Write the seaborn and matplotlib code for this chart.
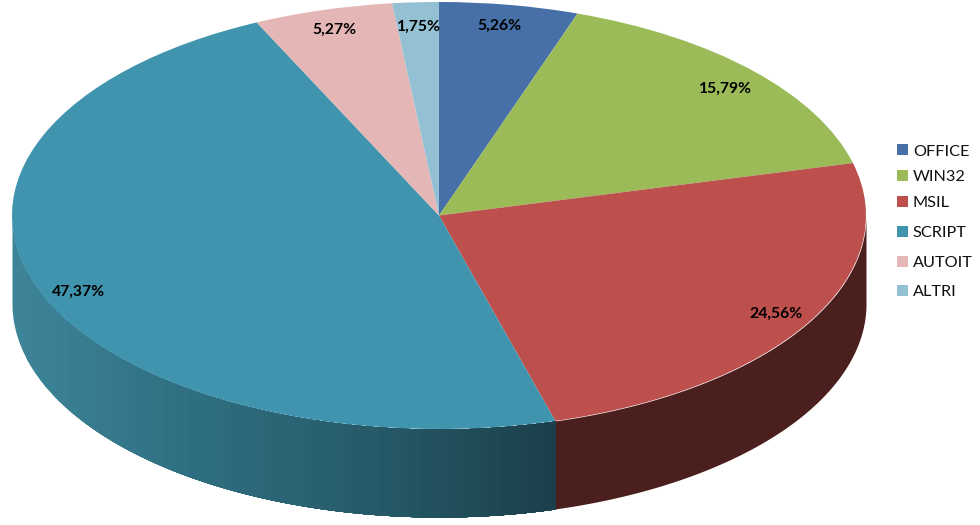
import numpy as np
import seaborn as sns
import matplotlib.pyplot as plt

categories = ['OFFICE', 'WIN32', 'MSIL', 'SCRIPT', 'AUTOIT', 'ALTRI']
values = [5.26, 15.79, 24.56, 47.37, 5.27, 1.75]
pct_labels = ['5,26%', '15,79%', '24,56%', '47,37%', '5,27%', '1,75%']

colors = ['#4670a7', '#9bbb59', '#bd4f4c', '#4094ad', '#e4b6b6', '#93c1d3']

# layout, in pixels of the 980x525 picture
cx, cy, rx, ry = 439, 215.5, 427, 213.5
depth = 88
label_px = [(499, 26), (725, 89), (776, 314), (78, 292), (334, 30), (419, 27)]

sns.set_theme(style='white')
plt.rcParams['font.family'] = ['Lato', 'DejaVu Sans']

fig = plt.figure(figsize=(9.8, 5.25), dpi=100)
ax = fig.add_axes([0, 0, 1, 1])

# side wall, only the front half of the pie shows it
def wall(t0, t1, pal, bands=1):
    t = np.radians(np.linspace(t0, t1, 400))
    xs = np.cos(t)
    ys = np.sin(t)
    order = np.argsort(xs)
    xs, ys = xs[order], ys[order]
    cols = sns.blend_palette(pal, bands)
    edges = np.linspace(xs.min(), xs.max(), bands + 1)
    # each band runs on to the right end, the next one paints over it
    for i in range(bands):
        m = xs >= edges[i]
        ax.fill_between(xs[m], ys[m], ys[m] - depth / ry, color=cols[i], linewidth=0)

ends = 90 - np.cumsum(values) / sum(values) * 360
wall(0, ends[2], ['#4b1f1e', '#4b1f1e'])
wall(ends[2], -180, ['#3d8499', '#2f6e80', '#265a68', '#1b404b'], bands=40)

wedges, _ = ax.pie(values, colors=colors, startangle=90, counterclock=False,
                   radius=1, wedgeprops={'linewidth': 0})

ax.set_aspect('auto')
ax.set_xlim(-cx / rx, (980 - cx) / rx)
ax.set_ylim(-(525 - cy) / ry, cy / ry)
ax.axis('off')

for lab, (px, py) in zip(pct_labels, label_px):
    fig.text(px / 980, 1 - py / 525, lab, ha='center', va='center',
             fontsize=11.3, fontweight='bold', color='black')

# legend rows are not evenly spaced in the picture, so two groups
leg_kw = dict(frameon=False, fontsize=11.7, handlelength=0.66, handleheight=0.66,
              handletextpad=0.31, borderpad=0, borderaxespad=0, loc='upper left',
              bbox_transform=fig.transFigure, labelcolor='#111111')
leg1 = ax.legend(wedges[:3], categories[:3], bbox_to_anchor=(897 / 980, 1 - 144.5 / 525),
                 labelspacing=0.7, **leg_kw)
ax.add_artist(leg1)
ax.legend(wedges[3:], categories[3:], bbox_to_anchor=(897 / 980, 1 - 226 / 525),
          labelspacing=0.95, **leg_kw)

fig.savefig('out.png', dpi=100)
